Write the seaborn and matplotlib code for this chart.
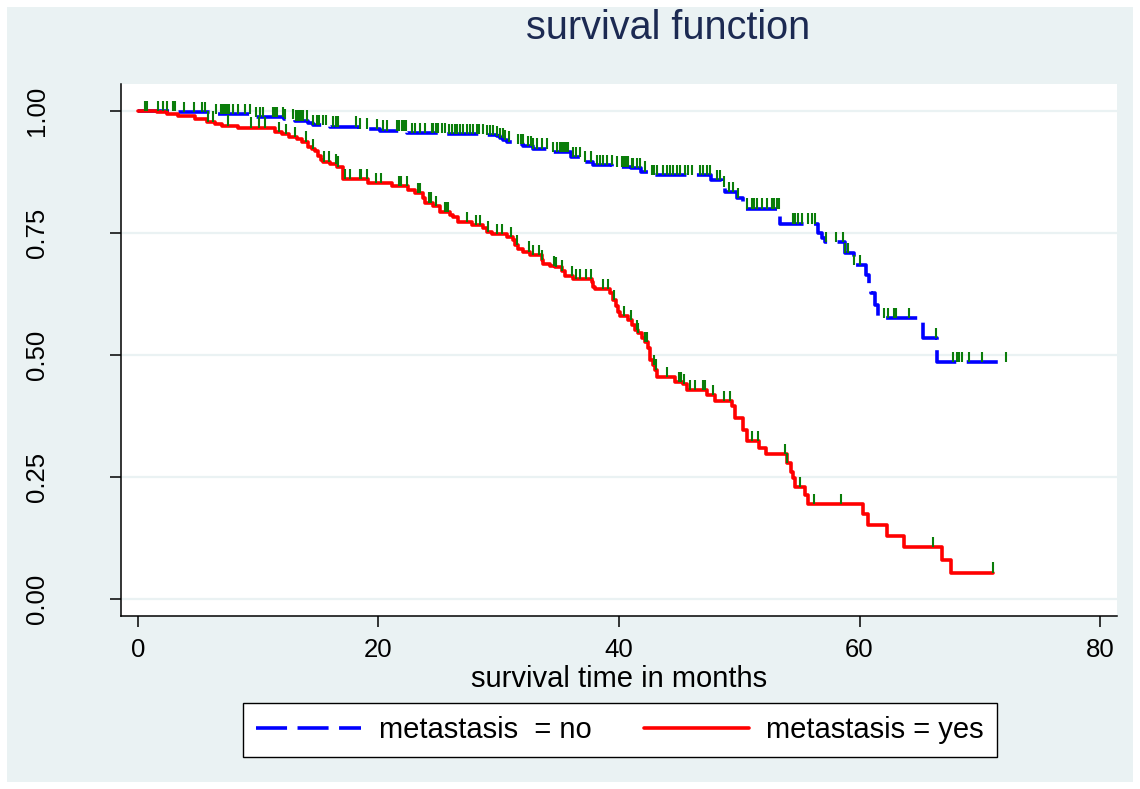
import numpy as np
import pandas as pd
import matplotlib
matplotlib.use("Agg")
import matplotlib.pyplot as plt
from matplotlib.lines import Line2D
from matplotlib.patches import Rectangle
import seaborn as sns

# ---------------- data ----------------
group_labels = ["metastasis  = no", "metastasis = yes"]

# metastasis = no : Kaplan-Meier step times and survival after each step
no_times = [0.0, 3.24, 5.99, 9.59, 12.14, 13.06, 14.16, 14.58, 15.97, 18.40, 19.29,
            20.12, 22.40, 25.61, 28.94, 29.83, 30.10, 30.38, 30.66, 31.43, 32.04,
            32.87, 34.18, 36.01, 36.90, 37.80, 39.42, 41.00, 41.83, 42.58, 47.65,
            48.55, 48.80, 49.78, 50.30, 53.35, 56.52, 56.86, 57.13, 58.79, 59.54,
            60.58, 60.75, 60.92, 61.30, 61.50, 65.30, 66.44]
no_surv = [1.000, 0.997, 0.993, 0.988, 0.983, 0.980, 0.975, 0.971, 0.968, 0.964, 0.963,
           0.960, 0.954, 0.952, 0.951, 0.948, 0.944, 0.941, 0.937, 0.932, 0.928,
           0.923, 0.915, 0.905, 0.896, 0.889, 0.886, 0.883, 0.876, 0.869, 0.859,
           0.845, 0.834, 0.821, 0.800, 0.769, 0.750, 0.740, 0.732, 0.709, 0.684,
           0.664, 0.640, 0.627, 0.602, 0.575, 0.535, 0.485]
no_end = 72.20

# metastasis = yes
yes_times = [0.0, 1.55, 2.39, 3.35, 4.74, 5.71, 6.40, 6.96, 8.34, 11.39, 11.95,
             12.58, 13.20, 13.66, 14.16, 14.45, 14.72, 14.99, 15.19, 15.41, 15.97,
             16.57, 17.07, 19.15, 21.10, 22.48, 23.04, 23.73, 23.87, 24.56, 25.11,
             25.95, 26.22, 26.64, 27.75, 28.72, 29.00, 29.41, 30.66, 31.21, 31.35,
             31.63, 32.04, 32.60, 33.57, 33.71, 34.26, 34.68, 35.23, 35.51, 36.20,
             37.73, 37.86, 38.00, 39.25, 39.53, 39.75, 39.94, 40.08, 40.77, 41.06,
             41.33, 41.61, 41.89, 42.16, 42.44, 42.58, 42.80, 42.99, 43.13, 44.66,
             45.35, 45.63, 47.29, 47.98, 49.37, 49.65, 50.34, 50.62, 51.67, 52.20,
             53.95, 54.28, 54.50, 54.64, 55.47, 55.74, 60.32, 60.73, 62.31, 63.70,
             66.84, 67.58]
yes_surv = [1.000, 0.997, 0.994, 0.990, 0.984, 0.978, 0.973, 0.970, 0.966, 0.956, 0.952,
            0.947, 0.943, 0.937, 0.927, 0.922, 0.917, 0.907, 0.900, 0.896, 0.891,
            0.886, 0.861, 0.852, 0.846, 0.838, 0.831, 0.821, 0.812, 0.805, 0.793,
            0.787, 0.782, 0.773, 0.766, 0.760, 0.753, 0.747, 0.742, 0.736, 0.725,
            0.717, 0.712, 0.705, 0.695, 0.686, 0.682, 0.680, 0.673, 0.662, 0.656,
            0.650, 0.640, 0.635, 0.628, 0.613, 0.600, 0.589, 0.579, 0.572, 0.561,
            0.551, 0.545, 0.535, 0.526, 0.514, 0.490, 0.480, 0.470, 0.455, 0.445,
            0.440, 0.428, 0.418, 0.406, 0.395, 0.371, 0.346, 0.324, 0.309, 0.297,
            0.278, 0.261, 0.247, 0.230, 0.213, 0.195, 0.174, 0.152, 0.129, 0.107,
            0.080, 0.054]
yes_end = 71.07

# censoring times
no_censor = [0.58, 0.78, 1.64, 2.11, 2.44, 2.88, 3.08, 3.85, 4.66, 5.29, 5.57, 6.49, 6.87,
             7.10, 7.24, 7.37, 7.57, 7.93, 8.34, 8.90, 9.31, 9.81, 10.15, 10.37, 11.25,
             11.39, 11.53, 12.03, 12.22, 12.92, 13.11, 13.28, 13.47, 13.61, 13.75, 14.03,
             14.58, 14.86, 15.08, 15.41, 15.63, 16.24, 16.47, 16.66, 18.13, 18.46, 19.02,
             19.90, 20.40, 20.68, 21.51, 21.73, 21.93, 22.12, 22.29, 22.76, 23.04, 23.45,
             23.87, 24.42, 24.56, 24.78, 24.97, 25.26, 25.53, 25.89, 26.09, 26.36, 26.56,
             26.78, 27.05, 27.33, 27.61, 27.88, 28.17, 28.38, 28.72, 29.00, 29.27, 29.55,
             29.83, 30.10, 30.33, 30.52, 30.88, 31.63, 31.82, 31.99, 32.46, 32.66, 32.87,
             33.21, 33.57, 33.99, 34.54, 34.87, 35.09, 35.23, 35.37, 35.51, 35.65, 35.78,
             36.20, 36.42, 36.75, 37.17, 37.65, 38.14, 38.42, 38.70, 38.97, 39.39, 39.81,
             40.22, 40.36, 40.50, 40.64, 40.77, 41.06, 41.19, 41.47, 41.75, 42.16, 42.72,
             42.91, 43.13, 43.69, 43.97, 44.24, 44.52, 44.80, 45.07, 45.49, 45.76, 46.05,
             46.74, 47.01, 47.29, 47.57, 48.12, 48.40, 48.73, 49.17, 49.50, 49.92, 50.67,
             51.03, 51.23, 51.50, 51.87, 52.28, 52.70, 52.89, 53.11, 53.33, 54.44, 54.64,
             54.91, 55.19, 55.74, 56.02, 56.30, 57.21, 58.05, 58.65, 58.82, 59.04, 59.54,
             60.04, 62.04, 62.40, 62.87, 63.01, 64.14, 66.36, 67.75, 68.13, 68.30, 68.50,
             69.13, 70.16, 72.18]
yes_censor = [5.85, 6.21, 7.46, 9.37, 10.09, 10.56, 11.75, 12.31, 13.06, 13.94, 14.53,
              15.49, 15.88, 16.47, 16.66, 17.21, 17.63, 18.46, 18.52, 19.02, 19.79, 20.18,
              21.73, 21.85, 22.34, 23.31, 23.45, 24.23, 24.34, 24.78, 25.53, 25.67, 25.81,
              27.38, 28.11, 28.44, 29.13, 29.83, 30.25, 31.02, 31.49, 32.52, 32.82, 33.37,
              33.62, 34.59, 34.74, 35.23, 36.06, 36.42, 36.76, 37.23, 37.65, 38.70, 39.11,
              39.61, 40.42, 41.00, 41.47, 41.61, 42.16, 42.30, 42.91, 43.08, 43.97, 45.02,
              45.13, 45.40, 45.90, 46.32, 47.01, 47.15, 47.79, 48.76, 49.23, 51.09, 51.58,
              53.80, 53.95, 55.05, 56.24, 58.44, 66.14, 71.07]

x_ticks = [0, 20, 40, 60, 80]
y_ticks = [0.0, 0.25, 0.50, 0.75, 1.00]
y_ticklabels = ["0.00", "0.25", "0.50", "0.75", "1.00"]
title_text = "survival function"
xlabel_text = "survival time in months"

# ---------------- styling ----------------
BG = "#EAF2F3"
BLUE = "#0000FF"
RED = "#FF0000"
GREEN = "#0A7D0A"
NAVY = "#1C2A52"
DASH = (8.6, 2.9)
LW = 2.6

sns.set_theme(style="white")
plt.rcParams["font.family"] = ["Liberation Sans", "DejaVu Sans"]

W, H = 1140, 789
fig = plt.figure(figsize=(W / 100, H / 100), dpi=100, facecolor="white")
fig.patches.append(Rectangle((7 / W, 7 / H), 1126 / W, 775 / H, transform=fig.transFigure,
                             facecolor=BG, edgecolor="none", zorder=-10))

ax = fig.add_axes([121 / W, (H - 616) / H, 996 / W, 532 / H])
ax.set_facecolor("white")

# build long table for the step curves
rows = []
for lab, tt, ss, te in [(group_labels[0], no_times, no_surv, no_end),
                        (group_labels[1], yes_times, yes_surv, yes_end)]:
    for t, s in zip(tt, ss):
        rows.append((lab, t, s))
    rows.append((lab, te, ss[-1]))
df = pd.DataFrame(rows, columns=["group", "time", "surv"])

# gridlines first
for yv in y_ticks:
    ax.axhline(yv, color=BG, lw=1.6, zorder=0.5)

sns.lineplot(data=df, x="time", y="surv", hue="group", style="group",
             palette={group_labels[0]: BLUE, group_labels[1]: RED},
             dashes={group_labels[0]: DASH, group_labels[1]: ""},
             estimator=None, sort=True, drawstyle="steps-post",
             linewidth=LW, legend=False, ax=ax, zorder=2)

# censor ticks
def surv_at(times, surv, c):
    idx = np.searchsorted(np.asarray(times), np.asarray(c), side="right") - 1
    return np.asarray(surv)[idx]

for tt, ss, cc in [(no_times, no_surv, no_censor), (yes_times, yes_surv, yes_censor)]:
    sv = surv_at(tt, ss, cc)
    ax.vlines(cc, sv, sv + 0.021, color=GREEN, lw=1.5, zorder=3)

ax.set_xlim(-1.41, 81.41)
ax.set_ylim(-0.0348, 1.0553)
ax.set_xticks(x_ticks)
ax.set_yticks(y_ticks)
ax.set_yticklabels(y_ticklabels, rotation=90, va="center")
ax.tick_params(axis="x", direction="out", length=8, width=1.1, color="black",
               labelcolor="black", labelsize=18.5, pad=8, bottom=True)
ax.tick_params(axis="y", direction="out", length=8, width=1.1, color="black",
               labelcolor="black", labelsize=18.5, pad=44, left=True)
ax.grid(False)
for side in ["top", "right"]:
    ax.spines[side].set_visible(False)
for side in ["left", "bottom"]:
    ax.spines[side].set_visible(True)
    ax.spines[side].set_color("black")
    ax.spines[side].set_linewidth(1.1)

ax.set_xlabel(xlabel_text, fontsize=21, labelpad=2, color="black")
ax.set_ylabel("")

fig.text(668 / W, 1 - 39 / H, title_text, fontsize=28.5, color=NAVY,
         ha="center", va="baseline")

handles = [Line2D([0], [0], color=BLUE, lw=LW, dashes=DASH),
           Line2D([0], [0], color=RED, lw=LW)]
leg = fig.legend(handles, group_labels, loc="center",
                 bbox_to_anchor=(620 / W, 1 - 730 / H), ncol=2, frameon=True,
                 fancybox=False, edgecolor="black", framealpha=1, fontsize=21,
                 handlelength=3.6, handletextpad=0.6, columnspacing=1.8,
                 borderpad=0.45)
leg.get_frame().set_linewidth(1.0)
for txt in leg.get_texts():
    txt.set_color("black")

fig.savefig("out.png", dpi=100, facecolor="white")
